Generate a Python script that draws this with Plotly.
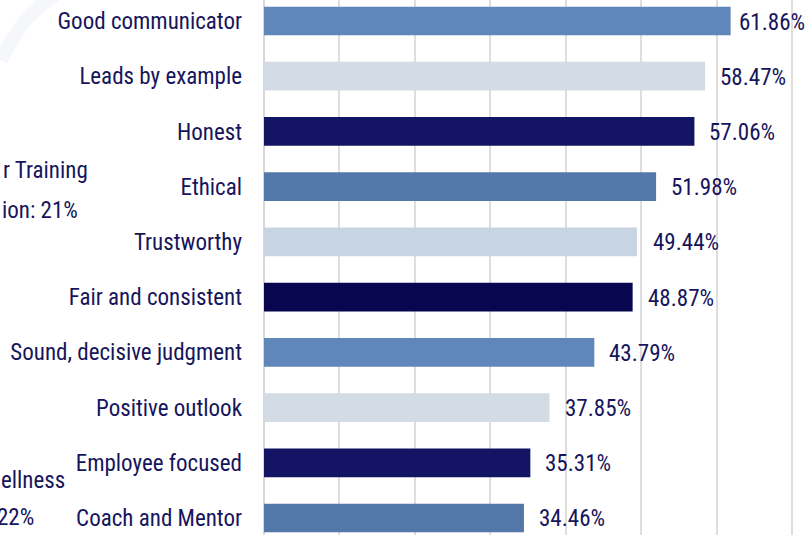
import plotly.graph_objects as go

categories = ["Good communicator", "Leads by example", "Honest", "Ethical", "Trustworthy",
              "Fair and consistent", "Sound, decisive judgment", "Positive outlook",
              "Employee focused", "Coach and Mentor"]
values = [61.86, 58.47, 57.06, 51.98, 49.44, 48.87, 43.79, 37.85, 35.31, 34.46]
bar_colors = ["#5f87b9", "#d3dbe5", "#131463", "#5377a9", "#c7d5e3",
              "#07064f", "#5f87b9", "#d3dbe5", "#131463", "#5377a9"]
value_labels = [f"{v:.2f}%" for v in values]
label_shift = [6, 13, 13, 13, 14, 13, 13, 13, 13, 13]
side_texts = ["r Training", "ion: 21%", "ellness", "22%"]
side_y = [170, 210, 480, 517]
side_dx = [0, -1, -2, -6]

FONT = "Roboto Condensed, Liberation Sans Narrow, sans-serif"
NAVY = "#16155c"
W, H = 809, 535
ML = 263.5
PW = W - ML

fig = go.Figure(go.Bar(
    x=values, y=categories, orientation="h",
    marker=dict(color=bar_colors, line=dict(width=0)),
    width=0.52, hoverinfo="skip",
))

for c, v, t, s in zip(categories, values, value_labels, label_shift):
    fig.add_annotation(x=v, y=c, text=t, showarrow=False, xanchor="left",
                       xshift=s, yshift=-1,
                       font=dict(family=FONT, size=23, color=NAVY))

for t, yp, dx in zip(side_texts, side_y, side_dx):
    fig.add_annotation(x=-ML / PW + dx / PW, y=1 - yp / H, xref="paper", yref="paper",
                       text=t, showarrow=False, xanchor="left", yanchor="middle",
                       font=dict(family=FONT, size=23, color=NAVY))

# faint watermark stroke in the top-left corner
x0 = -ML / PW
fig.add_shape(type="path", xref="paper", yref="paper",
              path=f"M {x0} {1-60/H} Q {x0+25/PW} {1-10/H} {x0+55/PW} {1+5/H}",
              line=dict(color="rgba(215,225,240,0.25)", width=14), layer="below")

fig.update_layout(
    width=W, height=H,
    margin=dict(l=ML, r=0, t=0, b=0, autoexpand=False),
    paper_bgcolor="white", plot_bgcolor="white",
    showlegend=False,
    xaxis=dict(range=[0, 72.25], dtick=10, tick0=0, showgrid=True, gridcolor="#dedede",
               gridwidth=1.5, showticklabels=False, zeroline=True, zerolinecolor="#d8d8d8",
               zerolinewidth=2, fixedrange=True, automargin=False),
    yaxis=dict(range=[9 + 17 / 55.2, -21 / 55.2], showgrid=False,
               tickfont=dict(family=FONT, size=23, color=NAVY),
               ticklabelstandoff=21, ticks="", fixedrange=True, automargin=False),
)

fig.write_html("out.html")
